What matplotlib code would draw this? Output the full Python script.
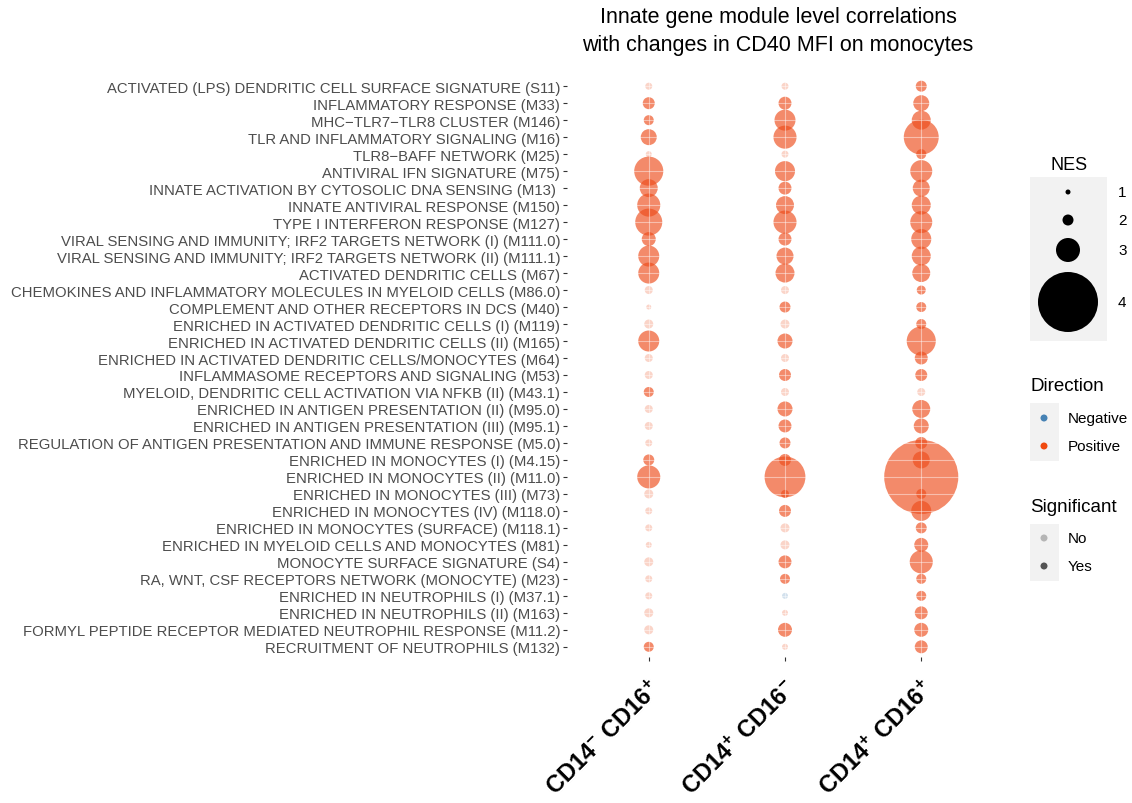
import numpy as np
import matplotlib
matplotlib.use("Agg")
import matplotlib.pyplot as plt
from matplotlib.patches import Rectangle

plt.rcParams['font.family'] = ['Liberation Sans', 'DejaVu Sans']
plt.rcParams['mathtext.fontset'] = 'custom'
plt.rcParams['mathtext.rm'] = 'Liberation Sans'
plt.rcParams['mathtext.bf'] = 'Liberation Sans:bold'

# modules, top to bottom
modules = [
    "ACTIVATED (LPS) DENDRITIC CELL SURFACE SIGNATURE (S11)",
    "INFLAMMATORY RESPONSE (M33)",
    "MHC\u2212TLR7\u2212TLR8 CLUSTER (M146)",
    "TLR AND INFLAMMATORY SIGNALING (M16)",
    "TLR8\u2212BAFF NETWORK (M25)",
    "ANTIVIRAL IFN SIGNATURE (M75)",
    "INNATE ACTIVATION BY CYTOSOLIC DNA SENSING (M13) ",
    "INNATE ANTIVIRAL RESPONSE (M150)",
    "TYPE I INTERFERON RESPONSE (M127)",
    "VIRAL SENSING AND IMMUNITY; IRF2 TARGETS NETWORK (I) (M111.0)",
    "VIRAL SENSING AND IMMUNITY; IRF2 TARGETS NETWORK (II) (M111.1)",
    "ACTIVATED DENDRITIC CELLS (M67)",
    "CHEMOKINES AND INFLAMMATORY MOLECULES IN MYELOID CELLS (M86.0)",
    "COMPLEMENT AND OTHER RECEPTORS IN DCS (M40)",
    "ENRICHED IN ACTIVATED DENDRITIC CELLS (I) (M119)",
    "ENRICHED IN ACTIVATED DENDRITIC CELLS (II) (M165)",
    "ENRICHED IN ACTIVATED DENDRITIC CELLS/MONOCYTES (M64)",
    "INFLAMMASOME RECEPTORS AND SIGNALING (M53)",
    "MYELOID, DENDRITIC CELL ACTIVATION VIA NFKB (II) (M43.1)",
    "ENRICHED IN ANTIGEN PRESENTATION (II) (M95.0)",
    "ENRICHED IN ANTIGEN PRESENTATION (III) (M95.1)",
    "REGULATION OF ANTIGEN PRESENTATION AND IMMUNE RESPONSE (M5.0)",
    "ENRICHED IN MONOCYTES (I) (M4.15)",
    "ENRICHED IN MONOCYTES (II) (M11.0)",
    "ENRICHED IN MONOCYTES (III) (M73)",
    "ENRICHED IN MONOCYTES (IV) (M118.0)",
    "ENRICHED IN MONOCYTES (SURFACE) (M118.1)",
    "ENRICHED IN MYELOID CELLS AND MONOCYTES (M81)",
    "MONOCYTE SURFACE SIGNATURE (S4)",
    "RA, WNT, CSF RECEPTORS NETWORK (MONOCYTE) (M23)",
    "ENRICHED IN NEUTROPHILS (I) (M37.1)",
    "ENRICHED IN NEUTROPHILS (II) (M163)",
    "FORMYL PEPTIDE RECEPTOR MEDIATED NEUTROPHIL RESPONSE (M11.2)",
    "RECRUITMENT OF NEUTROPHILS (M132)",
]

subsets = [r'$\mathbf{CD14^{-}\ CD16^{+}}$',
           r'$\mathbf{CD14^{+}\ CD16^{-}}$',
           r'$\mathbf{CD14^{+}\ CD16^{+}}$']

# normalised enrichment scores per subset (sign = direction)
nes_cd14neg_cd16pos = [1.43, 2.11, 1.88, 2.48, 1.23, 3.21, 2.63, 2.95, 3.13, 2.31,
                       2.83, 2.83, 1.60, 1.00, 1.75, 2.83, 1.60, 1.60, 1.88, 1.60,
                       1.60, 1.43, 2.00, 2.95, 1.75, 1.43, 1.43, 1.23, 1.75, 1.43,
                       1.43, 1.75, 1.75, 1.88]
nes_cd14pos_cd16neg = [1.43, 2.21, 2.83, 2.95, 1.43, 2.77, 2.21, 2.63, 2.95, 2.21,
                       2.56, 2.70, 1.60, 2.00, 1.75, 2.40, 1.60, 2.11, 1.60, 2.40,
                       2.21, 2.00, 2.11, 3.58, 1.60, 2.11, 1.75, 1.75, 2.21, 1.88,
                       -1.23, 1.23, 2.31, 1.23]
nes_cd14pos_cd16pos = [2.00, 2.48, 2.70, 3.41, 1.88, 2.89, 2.56, 2.70, 2.89, 2.77,
                       2.70, 2.63, 1.75, 1.88, 1.88, 3.21, 2.21, 2.11, 1.60, 2.63,
                       2.40, 2.11, 2.56, 4.23, 1.88, 2.77, 2.00, 2.31, 2.95, 1.88,
                       1.88, 2.21, 2.31, 2.21]

# significance flags (1 = yes)
sig_cd14neg_cd16pos = [0, 1, 1, 1, 0, 1, 1, 1, 1, 1, 1, 1, 0, 0, 0, 1, 0, 0, 1, 0,
                       0, 0, 1, 1, 0, 0, 0, 0, 0, 0, 0, 0, 0, 1]
sig_cd14pos_cd16neg = [0, 1, 1, 1, 0, 1, 1, 1, 1, 1, 1, 1, 0, 1, 0, 1, 0, 1, 0, 1,
                       1, 1, 1, 1, 1, 1, 0, 0, 1, 1, 0, 0, 1, 0]
sig_cd14pos_cd16pos = [1, 1, 1, 1, 1, 1, 1, 1, 1, 1, 1, 1, 1, 1, 1, 1, 1, 1, 0, 1,
                       1, 1, 1, 1, 1, 1, 1, 1, 1, 1, 1, 1, 1, 1]

nes_cols = [nes_cd14neg_cd16pos, nes_cd14pos_cd16neg, nes_cd14pos_cd16pos]
sig_cols = [sig_cd14neg_cd16pos, sig_cd14pos_cd16neg, sig_cd14pos_cd16pos]

# size scale: |NES| -> diameter in pixels (log-interpolated)
size_breaks = [1, 2, 3, 4, 5]
size_diam = [5, 11, 24, 60, 150]
POS_COL = '#EE4C1A'
NEG_COL = '#4682B4'
ALPHA_YES, ALPHA_NO = 0.65, 0.24
DPI = 100


def marker_area(nes):
    d = np.exp(np.interp(np.abs(nes), size_breaks, np.log(size_diam)))
    return (d * 72.0 / DPI) ** 2


fig = plt.figure(figsize=(11.32, 8.04), dpi=DPI)
ax = fig.add_axes([567 / 1132, 1 - 658 / 804, 436 / 1132, 581 / 804])

n = len(modules)
ypos = np.arange(n)[::-1]
for j, (nes, sig) in enumerate(zip(nes_cols, sig_cols)):
    cols = [matplotlib.colors.to_rgba(POS_COL if v > 0 else NEG_COL,
                                      ALPHA_YES if s else ALPHA_NO)
            for v, s in zip(nes, sig)]
    ax.scatter(np.full(n, j + 1), ypos, s=marker_area(np.array(nes)), c=cols,
               edgecolors='none', zorder=1)

ax.set_xlim(0.4, 3.6)
ax.set_ylim(-0.6, n - 0.4)
ax.set_xticks([1, 2, 3])
ax.set_xticklabels(subsets, fontsize=17, rotation=45, ha='right', va='top',
                   rotation_mode='anchor')
ax.set_yticks(ypos)
ax.set_yticklabels(modules, fontsize=10.7, color='#4D4D4D')
ax.tick_params(axis='both', length=3, width=0.8, color='#333333', pad=2)
ax.tick_params(axis='x', pad=11)
for sp in ax.spines.values():
    sp.set_visible(False)
ax.set_axisbelow(False)
ax.grid(True, color='white', linewidth=0.8, alpha=0.45)

fig.text(778 / 1132, 1 - 7 / 804,
         "Innate gene module level correlations\nwith changes in CD40 MFI on monocytes",
         ha='center', va='top', fontsize=15.5, linespacing=1.45)

# legends, laid out in pixel coordinates
lax = fig.add_axes([0, 0, 1, 1])
lax.set_xlim(0, 1132)
lax.set_ylim(804, 0)
lax.axis('off')

lax.text(1069, 165, "NES", ha='center', va='center', fontsize=13)
lax.add_patch(Rectangle((1030, 178), 77, 164, color='#F2F2F2', lw=0))
nes_keys = [1, 2, 3, 4]
nes_key_y = [193, 221, 251, 303]
lax.scatter([1068] * 4, nes_key_y, s=marker_area(np.array(nes_keys)), c='black',
            edgecolors='none')
for v, y in zip(nes_keys, nes_key_y):
    lax.text(1118, y, str(v), ha='left', va='center', fontsize=11)

lax.text(1030, 387, "Direction", ha='left', va='center', fontsize=13.5)
lax.add_patch(Rectangle((1030, 404), 29, 58, color='#F2F2F2', lw=0))
lax.scatter([1044, 1044], [419, 447], s=(7 * 0.72) ** 2, c=[NEG_COL, '#F04A10'],
            edgecolors='none')
lax.text(1068, 419, "Negative", ha='left', va='center', fontsize=11)
lax.text(1068, 447, "Positive", ha='left', va='center', fontsize=11)

lax.text(1030, 508, "Significant", ha='left', va='center', fontsize=13.5)
lax.add_patch(Rectangle((1030, 525), 29, 57, color='#F2F2F2', lw=0))
lax.scatter([1044, 1044], [539, 567], s=(7 * 0.72) ** 2,
            c=[(0, 0, 0, 0.25), (0, 0, 0, 0.65)], edgecolors='none')
lax.text(1068, 539, "No", ha='left', va='center', fontsize=11)
lax.text(1068, 567, "Yes", ha='left', va='center', fontsize=11)

fig.savefig("out.png", dpi=DPI, facecolor='white')
